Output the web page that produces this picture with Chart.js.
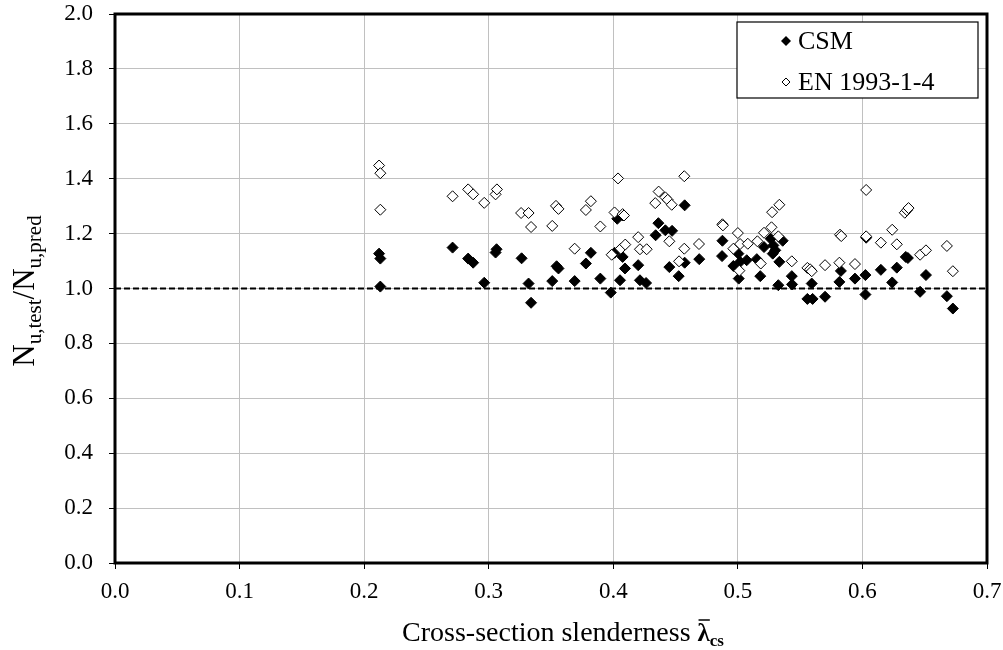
<!DOCTYPE html>
<html>
<head>
<meta charset="utf-8">
<script src="https://cdn.jsdelivr.net/npm/chart.js@4"></script>
<style>
    body { margin: 0; background: #fff; }
    #wrap { width: 1003px; height: 650px; }
</style>
</head>
<body>
<div id="wrap"><canvas id="chart" width="1003" height="650"></canvas></div>
<script>
// CSM results (filled diamonds)
var csmX = [0.212, 0.213, 0.213, 0.271, 0.2835, 0.2875, 0.2964, 0.3055, 0.3063, 0.3264,
    0.332, 0.334, 0.351, 0.3545, 0.356, 0.369, 0.378, 0.382, 0.3896, 0.398,
    0.401, 0.4032, 0.4075, 0.4075, 0.4094, 0.4054, 0.42, 0.4214, 0.4263, 0.434,
    0.4362, 0.4418, 0.4472, 0.445, 0.4525, 0.4573, 0.4573, 0.469, 0.4876, 0.4873,
    0.4964, 0.5007, 0.5004, 0.5018, 0.5071, 0.5152, 0.518, 0.521, 0.5264, 0.5285,
    0.53, 0.528, 0.5325, 0.536, 0.5333, 0.5433, 0.5435, 0.5558, 0.56, 0.5593,
    0.57, 0.5815, 0.5827, 0.594, 0.6024, 0.6024, 0.603, 0.6148, 0.6239, 0.6276,
    0.6348, 0.6365, 0.6463, 0.651, 0.6678, 0.6726];
var csmY = [1.127, 1.109, 1.007, 1.149, 1.109, 1.094, 1.021, 1.131, 1.143, 1.110,
    1.018, 0.948, 1.027, 1.081, 1.073, 1.027, 1.091, 1.130, 1.036, 0.985,
    1.130, 1.254, 1.266, 1.115, 1.073, 1.030, 1.085, 1.030, 1.020, 1.194,
    1.238, 1.212, 1.210, 1.078, 1.045, 1.303, 1.094, 1.107, 1.174, 1.118,
    1.082, 1.036, 1.127, 1.097, 1.103, 1.107, 1.045, 1.151, 1.181, 1.157,
    1.139, 1.127, 1.012, 1.174, 1.097, 1.045, 1.015, 0.962, 0.962, 1.018,
    0.970, 1.024, 1.064, 1.036, 1.049, 0.978, 1.185, 1.068, 1.022, 1.076,
    1.115, 1.111, 0.988, 1.049, 0.972, 0.927];

// EN 1993-1-4 results (open diamonds)
var enX = [0.212, 0.213, 0.213, 0.271, 0.2835, 0.2875, 0.2964, 0.3055, 0.3066, 0.326,
    0.332, 0.334, 0.351, 0.354, 0.356, 0.369, 0.378, 0.382, 0.3896, 0.401,
    0.4038, 0.4075, 0.4086, 0.3987, 0.406, 0.4096, 0.42, 0.4214, 0.4268, 0.4337,
    0.4364, 0.4418, 0.4437, 0.4469, 0.445, 0.457, 0.457, 0.4528, 0.4688, 0.4876,
    0.488, 0.5, 0.4964, 0.5018, 0.5012, 0.508, 0.5157, 0.5184, 0.521, 0.527,
    0.5275, 0.5333, 0.5325, 0.5433, 0.5558, 0.558, 0.5593, 0.57, 0.5815, 0.582,
    0.583, 0.594, 0.603, 0.603, 0.6148, 0.6239, 0.6276, 0.634, 0.6357, 0.637,
    0.6463, 0.651, 0.6678, 0.6726];
var enY = [1.448, 1.420, 1.287, 1.336, 1.361, 1.343, 1.312, 1.343, 1.361, 1.275,
    1.275, 1.224, 1.228, 1.301, 1.290, 1.145, 1.286, 1.318, 1.226, 1.277,
    1.401, 1.271, 1.266, 1.123, 1.145, 1.160, 1.187, 1.143, 1.143, 1.311,
    1.353, 1.332, 1.323, 1.305, 1.172, 1.409, 1.145, 1.099, 1.162, 1.234,
    1.230, 1.202, 1.145, 1.162, 1.065, 1.163, 1.172, 1.091, 1.203, 1.223,
    1.278, 1.305, 1.190, 1.099, 1.075, 1.070, 1.063, 1.085, 1.094, 1.196,
    1.191, 1.089, 1.359, 1.190, 1.167, 1.214, 1.161, 1.276, 1.285, 1.293,
    1.123, 1.139, 1.155, 1.063];

// reference line Nu,test/Nu,pred = 1.0
var refX = [0, 0.7];
var refY = [1.0, 1.0];

var seriesNames = ['CSM', 'EN 1993-1-4'];
var serif = '"Liberation Serif", "Times New Roman", serif';

function toPoints(xs, ys) {
    return xs.map(function (x, i) { return { x: x, y: ys[i] }; });
}

// draws a list of text runs one after another (used for sub/superscripts)
function drawRuns(ctx, runs, x, y) {
    runs.forEach(function (r) {
        ctx.font = r.font;
        ctx.fillText(r.t, x, y + (r.dy || 0));
        r.x0 = x;
        r.w = ctx.measureText(r.t).width;
        x += r.w;
    });
}
function runsWidth(ctx, runs) {
    var w = 0;
    runs.forEach(function (r) { ctx.font = r.font; w += ctx.measureText(r.t).width; });
    return w;
}

var extrasPlugin = {
    id: 'extras',
    afterDraw: function (chart) {
        var ctx = chart.ctx;
        var a = chart.chartArea;
        ctx.save();

        // plot frame
        ctx.strokeStyle = '#000';
        ctx.lineWidth = 3;
        ctx.strokeRect(a.left, a.top, a.right - a.left, a.bottom - a.top);

        ctx.fillStyle = '#000';
        ctx.textBaseline = 'alphabetic';

        // y axis title
        var yRuns = [
            { t: 'N', font: '31px ' + serif },
            { t: 'u,test', font: '21px ' + serif, dy: 7 },
            { t: '/N', font: '31px ' + serif },
            { t: 'u,pred', font: '21px ' + serif, dy: 7 }
        ];
        ctx.save();
        ctx.translate(34, 291);
        ctx.rotate(-Math.PI / 2);
        drawRuns(ctx, yRuns, -runsWidth(ctx, yRuns) / 2, 0);
        ctx.restore();

        // x axis title with lambda-bar subscript cs
        var xRuns = [
            { t: 'Cross-section slenderness ', font: '28px ' + serif },
            { t: '\u03bb', font: 'bold 25px ' + serif },
            { t: 'cs', font: 'bold 17px ' + serif, dy: 5 }
        ];
        var xw = runsWidth(ctx, xRuns);
        drawRuns(ctx, xRuns, 563 - xw / 2, 641);
        var lam = xRuns[1];
        ctx.lineWidth = 1.5;
        ctx.beginPath();
        ctx.moveTo(lam.x0 + 1, 620);
        ctx.lineTo(lam.x0 + lam.w, 620);
        ctx.stroke();

        // legend box
        ctx.fillStyle = '#fff';
        ctx.fillRect(737, 22, 241, 76);
        ctx.strokeStyle = '#000';
        ctx.lineWidth = 1.2;
        ctx.strokeRect(737, 22, 241, 76);

        ctx.fillStyle = '#000';
        ctx.beginPath();
        ctx.moveTo(786, 36); ctx.lineTo(791, 41); ctx.lineTo(786, 46); ctx.lineTo(781, 41);
        ctx.closePath();
        ctx.fill();

        ctx.lineWidth = 1;
        ctx.beginPath();
        ctx.moveTo(786, 78); ctx.lineTo(790, 82); ctx.lineTo(786, 86); ctx.lineTo(782, 82);
        ctx.closePath();
        ctx.stroke();

        ctx.font = '26px ' + serif;
        ctx.textBaseline = 'middle';
        ctx.fillText(seriesNames[0], 798, 42);
        ctx.fillText(seriesNames[1], 798, 83);

        ctx.restore();
    }
};

var axisFont = { family: serif, size: 23 };

var chart = new Chart(document.getElementById('chart').getContext('2d'), {
    type: 'scatter',
    data: {
        datasets: [
            {
                label: seriesNames[1],
                data: toPoints(enX, enY),
                pointStyle: 'rectRot',
                pointRadius: 5.5,
                pointBorderWidth: 1,
                pointBackgroundColor: '#fff',
                pointBorderColor: '#000',
                order: 0
            },
            {
                label: seriesNames[0],
                data: toPoints(csmX, csmY),
                pointStyle: 'rectRot',
                pointRadius: 5.5,
                pointBorderWidth: 1,
                pointBackgroundColor: '#000',
                pointBorderColor: '#000',
                order: 1
            },
            {
                label: 'ref',
                data: toPoints(refX, refY),
                showLine: true,
                pointRadius: 0,
                borderColor: '#000',
                borderWidth: 2,
                borderDash: [6, 3],
                order: 2
            }
        ]
    },
    options: {
        responsive: false,
        animation: false,
        layout: { padding: { left: 0, right: 16, top: 14, bottom: 0 } },
        plugins: {
            legend: { display: false },
            tooltip: { enabled: false }
        },
        scales: {
            x: {
                type: 'linear',
                min: 0,
                max: 0.7,
                ticks: {
                    stepSize: 0.1,
                    color: '#000',
                    font: axisFont,
                    padding: 9,
                    maxRotation: 0,
                    callback: function (v) { return v.toFixed(1); }
                },
                grid: { color: '#c0c0c0', lineWidth: 1, tickColor: '#000', tickLength: 6 },
                border: { display: false },
                afterFit: function (scale) {
                    scale.height = 87;
                    scale.paddingLeft = 0;
                    scale.paddingRight = 0;
                }
            },
            y: {
                type: 'linear',
                min: 0,
                max: 2.0,
                ticks: {
                    stepSize: 0.2,
                    color: '#000',
                    font: axisFont,
                    padding: 16,
                    callback: function (v) { return v.toFixed(1); }
                },
                grid: { color: '#c0c0c0', lineWidth: 1, tickColor: '#000', tickLength: 6 },
                border: { display: false },
                afterFit: function (scale) {
                    scale.width = 115;
                    scale.paddingTop = 0;
                    scale.paddingBottom = 0;
                }
            }
        }
    },
    plugins: [extrasPlugin]
});
</script>
</body>
</html>
